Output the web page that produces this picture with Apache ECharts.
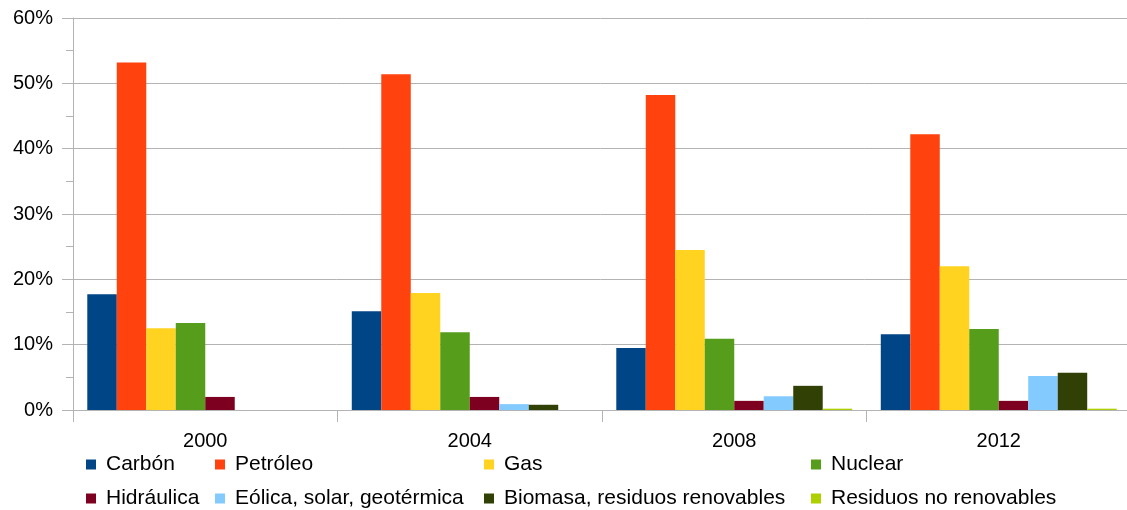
<!DOCTYPE html>
<html>
<head>
<meta charset="utf-8">
<script src="https://cdn.jsdelivr.net/npm/echarts@6/dist/echarts.min.js"></script>
<style>
  html, body { margin: 0; padding: 0; background: #fff; }
  #chart { width: 1127px; height: 510px; }
</style>
</head>
<body>
<div id="chart"></div>
<script>
// Years on the category axis
const years = ['2000', '2004', '2008', '2012'];

// Share of each energy source (%)
const carbon     = [17.7, 15.1,  9.5, 11.6];
const petroleo   = [53.2, 51.4, 48.2, 42.2];
const gas        = [12.5, 17.9, 24.5, 22.0];
const nuclear    = [13.3, 11.9, 10.9, 12.4];
const hidraulica = [ 2.0,  2.0,  1.4,  1.4];
const eolica     = [ 0.0,  0.9,  2.1,  5.2];
const biomasa    = [ 0.0,  0.8,  3.7,  5.7];
const residuos   = [ 0.0,  0.0,  0.2,  0.2];

const yTicks = [0, 10, 20, 30, 40, 50, 60];

const seriesDefs = [
  { name: 'Carbón', data: carbon, color: '#004586' },
  { name: 'Petróleo', data: petroleo, color: '#ff420e' },
  { name: 'Gas', data: gas, color: '#ffd320' },
  { name: 'Nuclear', data: nuclear, color: '#579d1c' },
  { name: 'Hidráulica', data: hidraulica, color: '#7e0021' },
  { name: 'Eólica, solar, geotérmica', data: eolica, color: '#83caff' },
  { name: 'Biomasa, residuos renovables', data: biomasa, color: '#314004' },
  { name: 'Residuos no renovables', data: residuos, color: '#aecf00' }
];

const axisGray = '#b3b3b3';
const font = 'Liberation Sans, Arial, sans-serif';
const axisTextSize = 20;
const legendTextSize = 21;

// Legend laid out as four columns of two entries each
const legendColumns = [
  { left: 86,  items: ['Carbón', 'Hidráulica'] },
  { left: 215, items: ['Petróleo', 'Eólica, solar, geotérmica'] },
  { left: 484, items: ['Gas', 'Biomasa, residuos renovables'] },
  { left: 811, items: ['Nuclear', 'Residuos no renovables'] }
];

const chart = echarts.init(document.getElementById('chart'), null, { renderer: 'canvas' });

chart.setOption({
  animation: false,
  backgroundColor: '#ffffff',
  // plot area runs slightly past the right edge of the canvas
  grid: { left: 73, width: 1058, top: 18, bottom: 100, containLabel: false, outerBoundsMode: 'none' },
  legend: legendColumns.map(col => ({
    data: col.items,
    orient: 'vertical',
    left: col.left,
    top: 454,
    icon: 'rect',
    itemWidth: 10,
    itemHeight: 10,
    itemGap: 13,
    padding: 0,
    selectedMode: false,
    textStyle: { color: '#000', fontSize: legendTextSize, fontFamily: font, lineHeight: 20, padding: [0, 0, 0, 5] }
  })),
  xAxis: {
    type: 'category',
    data: years,
    boundaryGap: true,
    axisLine: { show: true, lineStyle: { color: axisGray, width: 1 } },
    axisTick: { show: true, length: 12, lineStyle: { color: axisGray } },
    axisLabel: { color: '#000', fontSize: axisTextSize, fontFamily: font, margin: 21 },
    splitLine: { show: false }
  },
  yAxis: {
    type: 'value',
    min: yTicks[0],
    max: yTicks[yTicks.length - 1],
    interval: 10,
    axisLine: { show: true, lineStyle: { color: axisGray, width: 1 } },
    axisTick: { show: true, length: 11, lineStyle: { color: axisGray } },
    minorTick: { show: true, splitNumber: 2, length: 7, lineStyle: { color: axisGray } },
    axisLabel: { color: '#000', fontSize: axisTextSize, fontFamily: font, margin: 20, formatter: v => v + '%' },
    splitLine: { show: true, lineStyle: { color: axisGray, width: 1 } }
  },
  series: seriesDefs.map(s => ({
    name: s.name,
    type: 'bar',
    data: s.data,
    barGap: '0%',
    barCategoryGap: '10.8%',
    itemStyle: { color: s.color },
    emphasis: { disabled: true }
  }))
});
</script>
</body>
</html>
